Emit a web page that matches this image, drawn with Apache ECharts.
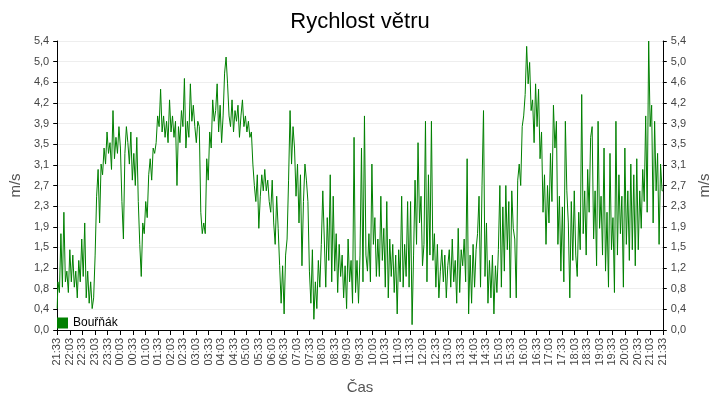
<!DOCTYPE html>
<html>
<head>
<meta charset="utf-8">
<script src="https://cdn.jsdelivr.net/npm/echarts@6/dist/echarts.min.js"></script>
<style>html,body{margin:0;background:#fff}#main{width:720px;height:400px}</style>
</head>
<body>
<div id="main"></div>
<script>
// rychlost větru, vzorky rovnoměrně přes 24 h od 21:33
var part0 = [0.4, 0.9, 0.7, 1.8, 0.8, 2.2, 0.9, 1.1, 0.7, 1.5, 0.9, 1.4];
var part1 = [0.8, 1.1, 0.6, 1.3, 0.9, 1.7, 1.0, 2.0, 0.6, 1.1, 0.5, 0.9];
var part2 = [0.4, 0.6, 1.4, 2.5, 3.0, 2.0, 3.1, 2.9, 3.4, 3.1, 3.7, 3.3];
var part3 = [3.5, 3.0, 4.1, 3.2, 3.6, 3.3, 3.8, 3.4, 2.4, 1.7, 3.3, 3.8];
var part4 = [3.5, 3.1, 3.7, 2.8, 3.3, 2.7, 3.6, 2.4, 1.6, 1.0, 2.0, 1.8];
var part5 = [2.4, 2.1, 2.9, 3.2, 2.8, 3.4, 3.3, 3.5, 4.0, 3.8, 4.5, 3.7];
var part6 = [4.0, 3.6, 3.9, 3.5, 4.3, 3.7, 4.0, 3.6, 3.9, 2.7, 3.8, 3.5];
var part7 = [4.1, 3.8, 4.7, 3.4, 3.9, 3.6, 4.6, 3.9, 4.2, 3.8, 3.5, 3.9];
var part8 = [3.8, 2.2, 1.8, 2.0, 1.8, 3.2, 2.8, 3.7, 3.4, 4.3, 3.9, 4.1];
var part9 = [4.6, 3.7, 4.2, 3.5, 4.0, 4.8, 5.1, 4.6, 4.0, 3.8, 4.3, 3.7];
var part10 = [4.1, 3.9, 4.2, 3.6, 4.0, 4.3, 3.8, 4.0, 3.7, 3.9, 3.6, 3.7];
var part11 = [3.1, 2.7, 2.4, 2.9, 1.9, 2.5, 2.9, 2.6, 3.0, 2.6, 2.8, 2.4];
var part12 = [2.2, 2.8, 2.0, 1.6, 2.5, 1.9, 1.2, 0.5, 1.2, 0.3, 1.4, 1.7];
var part13 = [2.8, 4.1, 3.1, 3.8, 3.4, 2.5, 3.1, 2.0, 2.9, 1.2, 2.4, 3.1];
var part14 = [2.8, 2.4, 1.1, 0.5, 1.5, 0.2, 0.9, 0.4, 1.3, 0.8, 1.6, 2.6];
var part15 = [1.7, 0.8, 2.1, 1.3, 2.9, 0.9, 2.5, 1.1, 1.8, 0.7, 1.6, 1.0];
var part16 = [1.4, 0.6, 1.2, 0.4, 1.7, 0.9, 1.3, 0.5, 3.6, 0.7, 1.3, 0.5];
var part17 = [1.4, 3.4, 0.9, 4.0, 1.4, 1.1, 1.8, 0.9, 3.1, 1.6, 2.1, 1.0];
var part18 = [1.7, 1.0, 2.5, 1.3, 1.9, 0.8, 2.4, 0.6, 1.7, 1.0, 1.6, 0.7];
var part19 = [1.4, 0.3, 1.5, 0.9, 2.5, 0.8, 1.6, 1.0, 2.4, 0.8, 2.4, 0.1];
var part20 = [1.4, 2.8, 1.6, 3.5, 2.0, 2.5, 1.2, 1.6, 3.9, 0.9, 2.9, 1.4];
var part21 = [3.9, 1.3, 1.8, 0.8, 1.6, 0.6, 1.1, 1.5, 0.9, 1.4, 0.6, 1.2];
var part22 = [1.5, 0.8, 1.7, 0.9, 1.3, 0.5, 1.9, 0.7, 1.5, 1.2, 1.7, 0.9];
var part23 = [3.2, 0.3, 1.4, 0.5, 1.6, 0.8, 1.5, 1.8, 2.5, 0.8, 2.7, 4.1];
var part24 = [1.0, 2.0, 0.5, 1.3, 0.6, 1.4, 0.3, 1.2, 0.7, 1.5, 2.7, 0.8];
var part25 = [2.3, 1.1, 2.7, 1.5, 2.4, 0.6, 2.6, 1.9, 1.7, 0.6, 2.8, 3.1];
var part26 = [2.7, 3.8, 4.0, 4.4, 5.3, 4.6, 5.0, 4.1, 4.3, 3.5, 4.6, 3.8];
var part27 = [4.5, 3.2, 3.7, 2.2, 2.9, 1.6, 2.7, 2.0, 3.3, 2.4, 4.2, 3.4];
var part28 = [3.9, 1.6, 2.5, 1.1, 2.3, 0.9, 3.9, 2.6, 2.0, 0.6, 2.4, 1.3];
var part29 = [2.6, 1.4, 1.0, 2.2, 1.5, 4.4, 1.8, 2.6, 1.4, 3.0, 2.2, 3.6];
var part30 = [3.8, 1.7, 2.6, 1.2, 3.9, 1.9, 2.5, 1.4, 3.4, 1.1, 2.2, 0.8];
var part31 = [3.3, 1.5, 2.1, 0.7, 3.9, 1.4, 2.9, 1.8, 2.5, 0.8, 3.4, 1.6];
var part32 = [2.6, 1.3, 3.1, 1.5, 2.9, 1.2, 3.2, 1.5, 2.6, 1.9, 3.0, 2.4];
var part33 = [4.0, 2.2, 5.4, 3.8, 4.2, 2.0, 3.9, 2.6, 3.3, 1.6, 3.1, 2.6];
var speed = [].concat(part0, part1, part2, part3, part4, part5, part6, part7, part8,
  part9, part10, part11, part12, part13, part14, part15, part16, part17, part18,
  part19, part20, part21, part22, part23, part24, part25, part26, part27, part28,
  part29, part30, part31, part32, part33);

var startMin = 21 * 60 + 33;
var spanMin = 24 * 60;
// [minuty od začátku, hodnota]
var points = speed.map(function (v, i) { return [i * spanMin / (speed.length - 1), v]; });

var timeLabel = function (m) {
  m = Math.round(startMin + m) % 1440;
  return ('0' + Math.floor(m / 60)).slice(-2) + ':' + ('0' + m % 60).slice(-2);
};
var yFmt = function (v) { return v.toFixed(1).replace('.', ','); };
var axisCommon = {
  type: 'value', min: 0, max: 5.4, interval: 5.4 / 14,
  name: 'm/s', nameLocation: 'middle', nameGap: 34,
  nameTextStyle: { fontSize: 15, color: '#555' },
  axisLine: { show: true, lineStyle: { color: '#000' } },
  axisTick: { show: true, length: 4, lineStyle: { color: '#000' } },
  axisLabel: { color: '#444', fontSize: 11, formatter: yFmt }
};

var myChart = echarts.init(document.getElementById('main'));
myChart.setOption({
  animation: false,
  title: { text: 'Rychlost větru', left: 'center', top: 6, textStyle: { fontSize: 22, fontWeight: 'normal', color: '#000' } },
  legend: { left: 52, top: 312, itemWidth: 11, itemHeight: 11, icon: 'rect', textStyle: { fontSize: 12, color: '#000' } },
  grid: { left: 48, right: 48, top: 41, bottom: 70 },
  xAxis: {
    type: 'value', min: 0, max: spanMin, interval: 30,
    name: 'Čas', nameLocation: 'middle', nameGap: 50, nameTextStyle: { fontSize: 15, color: '#555' },
    splitLine: { show: false },
    axisLine: { lineStyle: { color: '#000' } },
    axisTick: { length: 5, lineStyle: { color: '#000' } },
    axisLabel: { rotate: 90, color: '#444', fontSize: 11, formatter: timeLabel, showMinLabel: true, showMaxLabel: true }
  },
  yAxis: [
    Object.assign({ position: 'left', splitLine: { lineStyle: { color: '#eee' } } }, axisCommon),
    Object.assign({ position: 'right', splitLine: { show: false } }, axisCommon)
  ],
  series: [{
    name: 'Bouřňák', type: 'line', step: 'middle', data: points, symbol: 'none',
    color: '#008000', lineStyle: { width: 1, color: '#008000' }
  }]
});
</script>
</body>
</html>
